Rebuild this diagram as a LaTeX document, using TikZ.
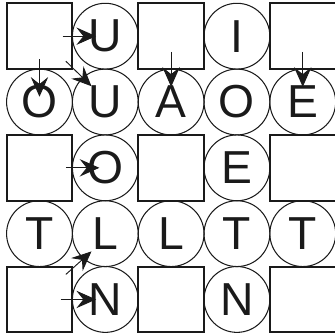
\documentclass[tikz,border=0pt]{standalone}
\usepackage{fontspec}
\setmainfont{Liberation Sans}
\usepackage{xcolor}
\usetikzlibrary{arrows.meta}
\definecolor{ink}{HTML}{1A1A1A}

\begin{document}
\begin{tikzpicture}[every node/.style={font=\fontsize{20}{24}\selectfont,text=ink},
  sq/.style={draw=ink,line width=0.9pt,minimum size=1cm,inner sep=0pt},
  ci/.style={draw=ink,circle,line width=0.45pt,minimum size=1cm,inner sep=0pt},
  a/.style={-{Stealth[length=8.5pt,width=7.5pt,inset=3pt]},line width=0.4pt,ink}]
  \useasboundingbox (-0.6,-4.54) rectangle (4.49,0.55);
  % row 1
  \node[sq] (s11) at (0,0) {}; \node[ci] (u1) at (1,0) {U}; \node[sq] (s13) at (2,0) {};
  \node[ci] (i1) at (3,0) {I}; \node[sq] (s15) at (4,0) {};
  % row 2
  \node[ci] (o2) at (0,-1) {O}; \node[ci] (u2) at (1,-1) {U}; \node[ci] (a2) at (2,-1) {A};
  \node[ci] (o2b) at (3,-1) {O}; \node[ci] (e2) at (4,-1) {E};
  % row 3
  \node[sq] (s31) at (0,-2) {}; \node[ci] (o3) at (1,-2) {O}; \node[sq] (s33) at (2,-2) {};
  \node[ci] (e3) at (3,-2) {E}; \node[sq] (s35) at (4,-2) {};
  % row 4
  \node[ci] (t4) at (0,-3) {T}; \node[ci] (l4) at (1,-3) {L}; \node[ci] (l4b) at (2,-3) {L};
  \node[ci] (t4b) at (3,-3) {T}; \node[ci] (t4c) at (4,-3) {T};
  % row 5
  \node[sq] (s51) at (0,-4) {}; \node[ci] (n5) at (1,-4) {N}; \node[sq] (s53) at (2,-4) {};
  \node[ci] (n5b) at (3,-4) {N}; \node[sq] (s55) at (4,-4) {};
  % arrows
  \draw[a] ([xshift=0.35cm]s11.center) -- ([xshift=-0.14cm]u1.center);
  \draw[a] ([yshift=-0.35cm]s11.center) -- ([yshift=0.08cm]o2.center);
  \draw[a] ([shift={(0.4,-0.38)}]s11.center) -- ([shift={(-0.21,0.24)}]u2.center);
  \draw[a] ([yshift=-0.24cm]s13.center) -- ([yshift=0.23cm]a2.center);
  \draw[a] ([yshift=-0.24cm]s15.center) -- ([yshift=0.23cm]e2.center);
  \draw[a] ([xshift=0.4cm]s31.center) -- ([xshift=-0.09cm]o3.center);
  \draw[a] ([xshift=0.32cm]s51.center) -- ([xshift=-0.14cm]n5.center);
  \draw[a] ([shift={(0.4,0.38)}]s51.center) -- ([shift={(-0.21,-0.27)}]l4.center);
\end{tikzpicture}
\end{document}
